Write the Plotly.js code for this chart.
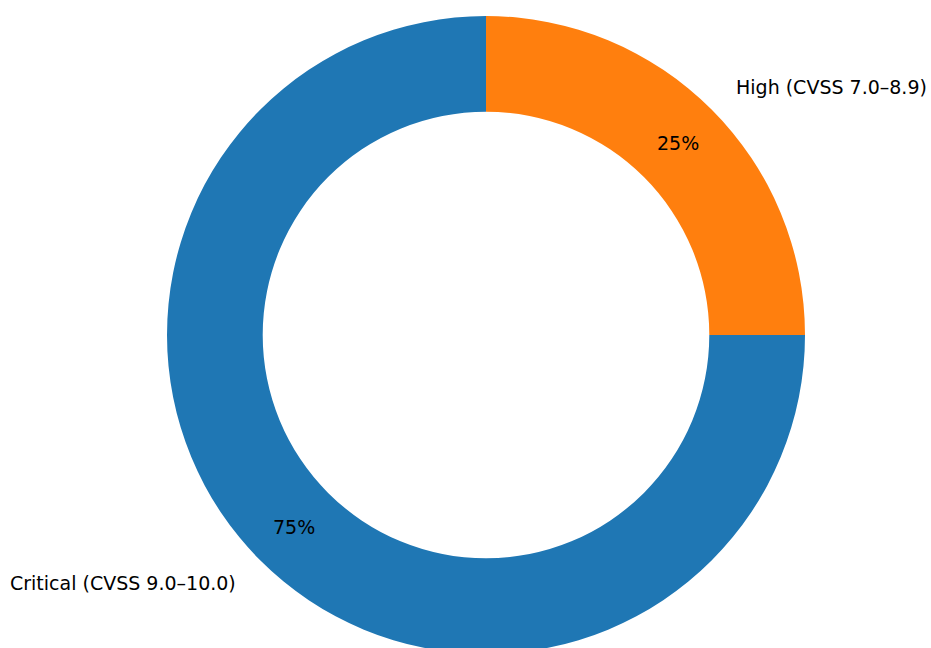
<!DOCTYPE html>
<html>
<head>
<meta charset="utf-8">
<script src="https://cdn.plot.ly/plotly-3.0.1.min.js"></script>
<style>
html, body { margin: 0; padding: 0; overflow: hidden; background: #fff; }
#chart { width: 931px; height: 670px; }
</style>
</head>
<body>
<div id="chart"></div>
<script>
const categories = ["Critical (CVSS 9.0–10.0)", "High (CVSS 7.0–8.9)"];
const values = [75, 25];
const colors = ["#1f77b4", "#ff7f0e"];

const HOLE = 0.7;
const LABEL_DIST = 1.1;
const PCT_DIST = 0.85;
const FONT = "DejaVu Sans, sans-serif";

// compute annotation positions from the data (counterclockwise from 12 o'clock)
const total = values.reduce((a, b) => a + b, 0);
const annotations = [];
let start = 90;
values.forEach((v, i) => {
  const span = v / total * 360;
  const mid = (start + span / 2) * Math.PI / 180;
  start += span;
  const cx = Math.cos(mid), cy = Math.sin(mid);
  annotations.push({
    xref: "paper", yref: "paper",
    x: 0.5 + LABEL_DIST * 0.5 * cx,
    y: 0.5 + LABEL_DIST * 0.5 * cy,
    text: categories[i],
    showarrow: false,
    xanchor: cx > 0 ? "left" : "right",
    yanchor: "middle",
    font: { family: FONT, size: 19, color: "#000" }
  });
  annotations.push({
    xref: "paper", yref: "paper",
    x: 0.5 + PCT_DIST * 0.5 * cx,
    y: 0.5 + PCT_DIST * 0.5 * cy,
    text: Math.round(v / total * 100) + "%",
    showarrow: false,
    xanchor: "center",
    yanchor: "middle",
    font: { family: FONT, size: 19, color: "#000" }
  });
});

const data = [{
  type: "pie",
  labels: categories,
  values: values,
  hole: HOLE,
  sort: false,
  direction: "counterclockwise",
  rotation: 90,
  textinfo: "none",
  hoverinfo: "label+percent",
  marker: { colors: colors, line: { width: 0 } },
  domain: { x: [0, 1], y: [0, 1] }
}];

const layout = {
  width: 931,
  height: 670,
  margin: { l: 167, r: 126, t: 16, b: 16, pad: 0 },
  showlegend: false,
  paper_bgcolor: "#fff",
  plot_bgcolor: "#fff",
  annotations: annotations
};

Plotly.newPlot("chart", data, layout, { displayModeBar: false, staticPlot: true });
</script>
</body>
</html>
